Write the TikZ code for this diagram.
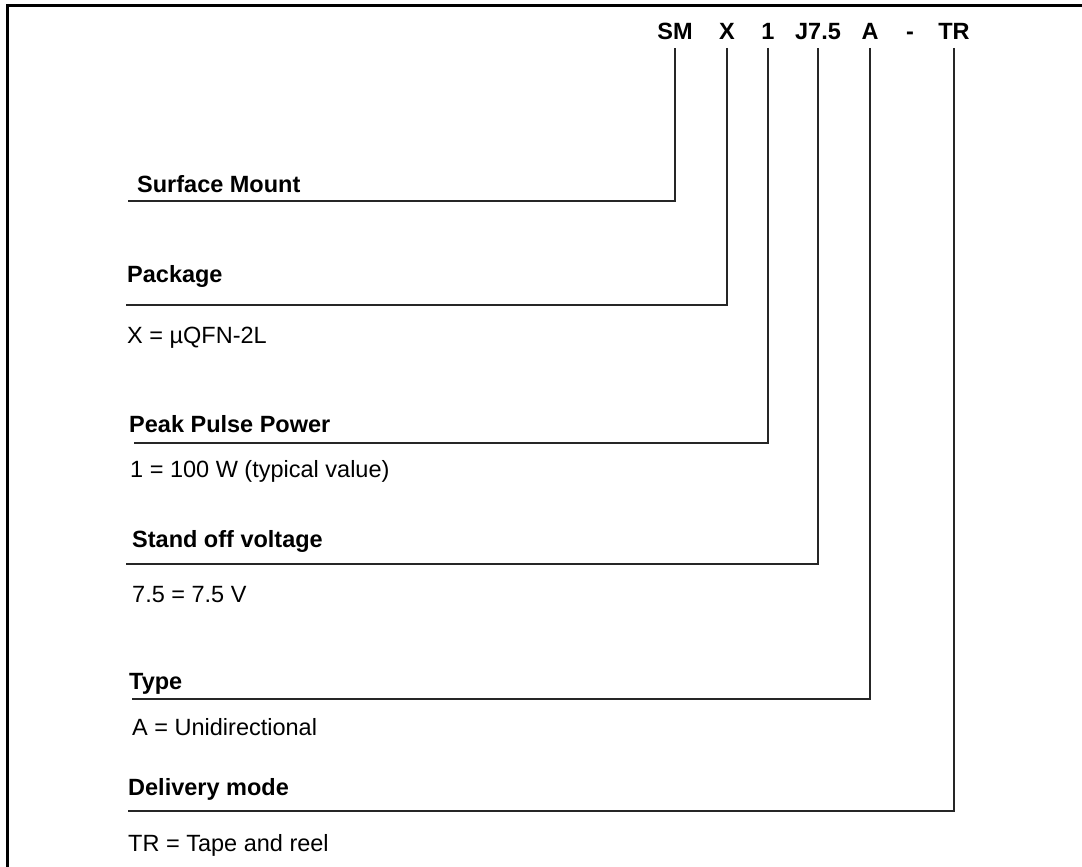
\documentclass[tikz,border=0pt]{standalone}
\usepackage{fontspec}
\setmainfont{Liberation Sans}
\begin{document}
\begin{tikzpicture}[x=1pt,y=-1pt,
	code/.style={font=\fontsize{23.5}{28}\selectfont\bfseries,anchor=base,inner sep=0pt,outer ysep=8pt},
	titre/.style={font=\fontsize{23.5}{28}\selectfont\bfseries,anchor=base west,inner sep=0pt},
	valeur/.style={font=\fontsize{23.5}{28}\selectfont,anchor=base west,inner sep=0pt},
	lead/.style={line width=2pt,color=black!85}]
	\useasboundingbox (0,0) rectangle (1082,867);
	% Cadre
	\draw[line width=2.5pt] (1082,5.5) -- (7.5,5.5) -- (7.5,867);
	%
	% Code de commande
	\node[code] (sm) at (675,40) {SM};
	\node[code] (pk) at (727,40) {X};
	\node[code] (ppp) at (768,40) {1};
	\node[code] (vr) at (818,40) {J7.5};
	\node[code] (ty) at (870,40) {A};
	\node[code] (tiret) at (910,40) {-};
	\node[code] (dm) at (954,40) {TR};
	%
	% Lignes de rappel
	\foreach \nm/\yy/\xg in {sm/201/128,pk/305/126,ppp/443/134,vr/564/126,ty/699/132,dm/811/128}{
		\coordinate (\nm-g) at (\xg,\yy);
		\draw[lead] (\nm.south) |- (\nm-g);
	};
	%
	% Légendes
	\node[titre] (surf) at (137,192) {Surface Mount};
	\node[titre] (pack) at (127,282) {Package};
	\node[valeur] (packv) at (127,343) {X = µQFN-2L};
	\node[titre] (peak) at (129,432) {Peak Pulse Power};
	\node[valeur] (peakv) at (130,477) {1 = 100 W (typical value)};
	\node[titre] (stand) at (132,547) {Stand off voltage};
	\node[valeur] (standv) at (132,602) {7.5 = 7.5 V};
	\node[titre] (type) at (129,689) {Type};
	\node[valeur] (typev) at (132,735) {A = Unidirectional};
	\node[titre] (deliv) at (128,795) {Delivery mode};
	\node[valeur] (delivv) at (128,851) {TR = Tape and reel};
\end{tikzpicture}
\end{document}
